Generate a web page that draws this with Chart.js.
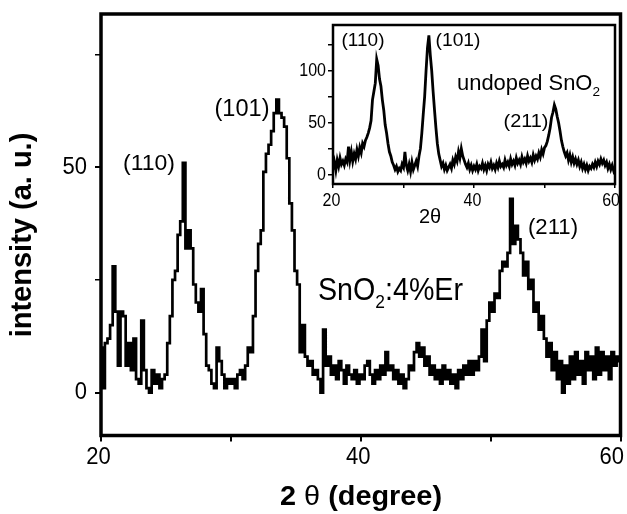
<!DOCTYPE html>
<html><head><meta charset="utf-8">
<script src="https://cdn.jsdelivr.net/npm/chart.js@4.4.1/dist/chart.umd.min.js"></script>
<style>
html,body{margin:0;padding:0;background:#fff;}
#wrap{position:relative;width:627px;height:514px;overflow:hidden;}
#wrap canvas{position:absolute;left:0;top:0;}
</style></head><body>
<div id="wrap"><canvas id="main" width="627" height="514"></canvas><canvas id="inset" width="627" height="514"></canvas></div>
<script>
// ---- data (2theta sampling grid, degrees) ----
const angles = Array.from({length: 201}, (_, i) => Math.round((20 + 0.2 * i) * 10) / 10);

// SnO2:4%Er (main plot), one value per angle
const erDopedIntensity = [
  10, 1, 11, 12, 15, 28, 18, 6, 18, 17,
  6, 11, 5, 12, 3, 2, 16, 5, 1, 0,
  5, 2, 4, 1, 3, 4, 11, 17, 25, 27,
  35, 38, 51, 32, 36, 32, 24, 20, 18, 23,
  13, 6, 5, 2, 1, 10, 7, 4, 1, 3,
  2, 3, 1, 4, 5, 3, 6, 10, 9, 17,
  27, 33, 36, 49, 53, 55, 58, 62, 65, 62,
  61, 59, 52, 42, 36, 27, 24, 9, 15, 8,
  6, 7, 4, 5, 3, 0, 14, 6, 8, 4,
  6, 3, 7, 5, 2, 6, 4, 3, 5, 2,
  4, 3, 6, 7, 4, 2, 5, 3, 6, 4,
  9, 5, 6, 3, 5, 2, 4, 1, 3, 6,
  5, 9, 11, 8, 10, 6, 8, 4, 6, 3,
  5, 2, 6, 3, 5, 2, 4, 1, 5, 3,
  6, 4, 7, 4, 7, 5, 8, 14, 7, 16,
  20, 18, 22, 21, 27, 29, 28, 31, 43, 33,
  37, 34, 31, 26, 29, 23, 25, 18, 20, 14,
  17, 12, 8, 11, 5, 9, 3, 7, 0, 6,
  2, 8, 3, 9, 4, 7, 2, 9, 5, 8,
  3, 10, 4, 9, 5, 8, 3, 9, 6, 8,
  7
];

// undoped SnO2 (inset), one value per angle
const undopedIntensity = [
  5, 12, 4, 14, 8, 16, 10, 13, 9, 15,
  12, 27, 14, 22, 13, 20, 15, 24, 18, 26,
  21, 30, 27, 33, 36, 40, 45, 52, 72, 80,
  88, 111, 105, 92, 85, 72, 62, 48, 40, 30,
  22, 18, 12, 9, 5, 8, 3, 6, 4, 10,
  7, 22, 9, 4, 10, 3, 12, 5, 9, 13,
  8, 18, 25, 40, 58, 75, 100, 122, 134, 115,
  100, 80, 62, 45, 30, 20, 14, 8, 11, 5,
  9, 4, 7, 10, 6, 14, 10, 17, 13, 22,
  16, 25, 18, 14, 10, 7, 11, 5, 9, 4,
  8, 5, 10, 4, 8, 6, 11, 5, 9, 4,
  10, 7, 12, 6, 9, 5, 11, 7, 13, 8,
  10, 7, 14, 9, 12, 8, 15, 10, 13, 9,
  16, 11, 14, 10, 17, 12, 15, 11, 18, 13,
  16, 12, 19, 14, 18, 15, 21, 17, 24, 20,
  26, 28, 32, 38, 45, 55, 60, 67, 63, 56,
  50, 42, 33, 27, 22, 18, 21, 14, 19, 12,
  17, 11, 15, 10, 14, 8, 12, 6, 10, 5,
  9, 4, 8, 6, 10, 7, 12, 8, 13, 10,
  15, 11, 14, 9, 12, 6, 10, 5, 9, 4,
  8
];

// ticks
const mainXTicks = [20, 30, 40, 50, 60];
const mainXLabels = ['20', '', '40', '', '60'];
const mainYTicks = [0, 25, 50, 75];
const mainYLabels = ['0', '', '50', ''];
const insetXTicks = [20, 30, 40, 50, 60];
const insetXLabels = ['20', '', '40', '', '60'];
const insetYTicks = [0, 25, 50, 75, 100, 125];
const insetYLabels = ['0', '', '50', '', '100', ''];

// ---- drawing helpers ----
const FAM = "'Liberation Sans', Arial, Helvetica, sans-serif";
function fontOf(s) { return (s.bold ? 'bold ' : '') + s.size + 'px ' + FAM; }
function drawRich(ctx, segs, x, y, opt) {
  opt = opt || {};
  ctx.save();
  ctx.translate(x, y);
  if (opt.rotate) ctx.rotate(opt.rotate);
  const widths = segs.map(s => { ctx.font = fontOf(s); return ctx.measureText(s.t).width; });
  const total = widths.reduce((a, b) => a + b, 0);
  const sx = opt.width ? opt.width / total : (opt.sx || 1);
  ctx.scale(sx, opt.sy || 1);
  let cx = opt.align === 'center' ? -total / 2 : (opt.align === 'right' ? -total : 0);
  ctx.textBaseline = 'middle';
  ctx.textAlign = 'left';
  ctx.fillStyle = '#000';
  segs.forEach((s, i) => {
    ctx.font = fontOf(s);
    ctx.fillText(s.t, cx, s.shift || 0);
    cx += widths[i];
  });
  ctx.restore();
  return total * sx;
}
function textWidth(ctx, s, size, bold) {
  ctx.save(); ctx.font = fontOf({size: size, bold: bold}); const w = ctx.measureText(s).width; ctx.restore(); return w;
}

function ticksFrom(values) { return s => { s.ticks = values.map(v => ({value: v})); }; }

// ---- main plot decorations ----
const mainDecor = {
  id: 'mainDecor',
  beforeDraw(chart) {
    const c = chart.ctx; c.save(); c.fillStyle = '#fff'; c.fillRect(0, 0, chart.width, chart.height); c.restore();
  },
  afterDraw(chart) {
    const c = chart.ctx, a = chart.chartArea, xs = chart.scales.x, ys = chart.scales.y;
    c.save();
    c.strokeStyle = '#000'; c.lineWidth = 3.5;
    c.strokeRect(a.left, a.top, a.right - a.left, a.bottom - a.top);
    c.restore();
    // y tick labels
    mainYTicks.forEach((v, i) => {
      if (!mainYLabels[i]) return;
      drawRich(c, [{t: mainYLabels[i], size: 22}], 87, ys.getPixelForValue(v), {align: 'right', sy: 1.1});
    });
    // x tick labels
    mainXTicks.forEach((v, i) => {
      if (!mainXLabels[i]) return;
      const w = textWidth(c, mainXLabels[i], 22);
      let px = xs.getPixelForValue(v) - 2.5;
      if (px + w / 2 > 624) px = 624 - w / 2;
      drawRich(c, [{t: mainXLabels[i], size: 22}], px, 457, {align: 'center', sy: 1.1});
    });
    // axis titles
    drawRich(c, [{t: 'intensity (a. u.)', size: 29, bold: true}], 23, 235, {align: 'center', rotate: -Math.PI / 2});
    drawRich(c, [{t: '2 ', size: 28, bold: true}, {t: 'θ', size: 28}, {t: ' (degree)', size: 28, bold: true}],
      361, 497, {align: 'center', width: 162});
    // peak labels
    drawRich(c, [{t: '(110)', size: 22}], 149, 164, {align: 'center', width: 52});
    drawRich(c, [{t: '(101)', size: 23}], 242, 110, {align: 'center', width: 55});
    drawRich(c, [{t: '(211)', size: 22}], 553, 228, {align: 'center', width: 50});
    drawRich(c, [{t: 'SnO', size: 28}, {t: '2', size: 17, shift: 10}, {t: ':4%Er', size: 28}],
      318, 291.5, {align: 'left', width: 145, sy: 1.12});
  }
};

new Chart(document.getElementById('main'), {
  type: 'line',
  data: {
    datasets: [{
      data: angles.map((a, i) => ({x: a, y: erDopedIntensity[i]})),
      borderColor: '#000', borderWidth: 2.7, pointRadius: 0, fill: false, tension: 0, stepped: 'middle'
    }]
  },
  options: {
    responsive: false, animation: false, devicePixelRatio: 1,
    layout: {autoPadding: false, padding: {left: 0, top: 14, right: 6.5, bottom: 0}},
    plugins: {legend: {display: false}, tooltip: {enabled: false}},
    scales: {
      x: {
        type: 'linear', min: 20, max: 60,
        afterBuildTicks: ticksFrom(mainXTicks),
        afterFit: s => { s.height = 78.5; },
        ticks: {display: false},
        grid: {display: true, drawOnChartArea: false, drawTicks: true, tickLength: 6, color: '#000', lineWidth: 2},
        border: {display: false}
      },
      y: {
        type: 'linear', min: -9.5, max: 84,
        afterBuildTicks: ticksFrom(mainYTicks),
        afterFit: s => { s.width = 101; },
        ticks: {display: false},
        grid: {display: true, drawOnChartArea: false, drawTicks: true, tickLength: 6, color: '#000',
          lineWidth: ctx => (mainYLabels[mainYTicks.indexOf(ctx.tick && ctx.tick.value)] ? 2 : 1.5)},
        border: {display: false}
      }
    }
  },
  plugins: [mainDecor]
});

// ---- inset ----
const insetDecor = {
  id: 'insetDecor',
  afterDraw(chart) {
    const c = chart.ctx, a = chart.chartArea, xs = chart.scales.x, ys = chart.scales.y;
    c.save();
    c.strokeStyle = '#000'; c.lineWidth = 2.5;
    c.strokeRect(a.left, a.top, a.right - a.left, a.bottom - a.top);
    c.restore();
    insetYTicks.forEach((v, i) => {
      if (!insetYLabels[i]) return;
      drawRich(c, [{t: insetYLabels[i], size: 16}], 326, ys.getPixelForValue(v), {align: 'right', sy: 1.2});
    });
    insetXTicks.forEach((v, i) => {
      if (!insetXLabels[i]) return;
      const w = textWidth(c, insetXLabels[i], 16);
      let px = xs.getPixelForValue(v) - 1.5;
      if (px + w / 2 > 620) px = 620 - w / 2;
      drawRich(c, [{t: insetXLabels[i], size: 16}], px, 201, {align: 'center', sy: 1.2});
    });
    drawRich(c, [{t: '2θ', size: 20}], 430, 217, {align: 'center', sy: 1.05});
    drawRich(c, [{t: '(110)', size: 18}], 363, 41, {align: 'center', width: 43, sy: 1.05});
    drawRich(c, [{t: '(101)', size: 18}], 458, 41, {align: 'center', width: 45, sy: 1.05});
    drawRich(c, [{t: '(211)', size: 18}], 526, 122, {align: 'center', width: 45, sy: 1.05});
    drawRich(c, [{t: 'undoped SnO', size: 21}, {t: '2', size: 13, shift: 8}],
      457, 83.5, {align: 'left', width: 143, sy: 1.05});
  }
};

new Chart(document.getElementById('inset'), {
  type: 'line',
  data: {
    datasets: [{
      data: angles.map((a, i) => ({x: a, y: undopedIntensity[i]})),
      borderColor: '#000', borderWidth: 2.8, pointRadius: 0, fill: false, tension: 0, stepped: false
    }]
  },
  options: {
    responsive: false, animation: false, devicePixelRatio: 1,
    layout: {autoPadding: false, padding: {left: 0, top: 25, right: 12, bottom: 0}},
    plugins: {legend: {display: false}, tooltip: {enabled: false}},
    scales: {
      x: {
        type: 'linear', min: 20, max: 60,
        afterBuildTicks: ticksFrom(insetXTicks),
        afterFit: s => { s.height = 330; },
        ticks: {display: false},
        grid: {display: true, drawOnChartArea: false, drawTicks: true, tickLength: 4, color: '#000', lineWidth: 1.5},
        border: {display: false}
      },
      y: {
        type: 'linear', min: -9, max: 144,
        afterBuildTicks: ticksFrom(insetYTicks),
        afterFit: s => { s.width = 333; },
        ticks: {display: false},
        grid: {display: true, drawOnChartArea: false, drawTicks: true, tickLength: 5, color: '#000', lineWidth: 1.5},
        border: {display: false}
      }
    }
  },
  plugins: [insetDecor]
});
</script>
</body></html>
